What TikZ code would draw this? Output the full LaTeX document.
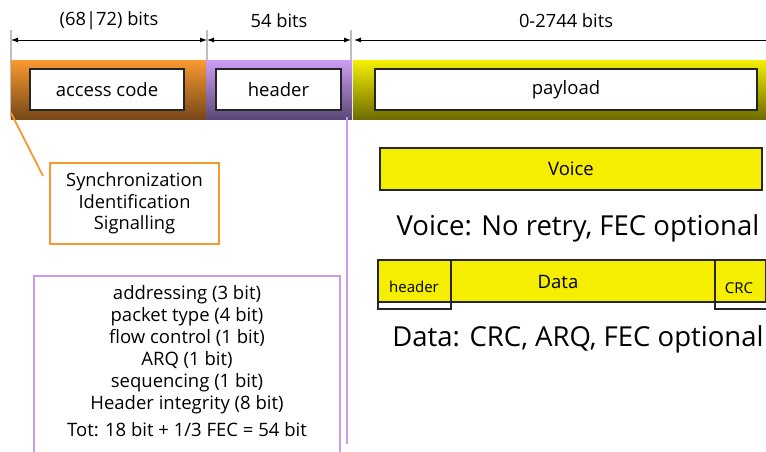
\documentclass[tikz,border=0pt]{standalone}
\usepackage{fontspec}
\setmainfont{Open Sans}
\definecolor{orTop}{HTML}{F7982F}
\definecolor{orBot}{HTML}{784818}
\definecolor{puTop}{HTML}{CB9CF2}
\definecolor{puBot}{HTML}{5C4878}
\definecolor{yeTop}{HTML}{F2EE00}
\definecolor{yeBot}{HTML}{6E6C00}
\definecolor{fillY}{HTML}{F5EE00}
\definecolor{orLine}{HTML}{F7982F}
\definecolor{puLine}{HTML}{C99AF0}
\tikzset{
  whitebox/.style={draw=black!85, line width=1.2pt, fill=white, font=\fontsize{18.5}{22}\selectfont},
  dimarrow/.style={draw=black, line width=0.9pt, {Latex[length=7pt,width=5pt]}-{Latex[length=7pt,width=5pt]}},
  tick/.style={draw=black!25, line width=1.2pt},
  dimlabel/.style={font=\fontsize{18.3}{22}\selectfont},
  biglabel/.style={font=\fontsize{27.5}{32}\selectfont},
  ybox/.style={draw=black!85, line width=1.2pt, fill=fillY},
}
\usetikzlibrary{arrows.meta}
\begin{document}
\begin{tikzpicture}[x=1pt,y=-1pt]
\useasboundingbox (0,0) rectangle (766,452);
% ticks
\draw[tick] (11,30) -- (11,118);
\draw[tick] (207,30) -- (207,60);
\draw[tick] (351,30) -- (351,60);
\coordinate (t0) at (11,40);
\coordinate (t1) at (207,40);
\coordinate (t2) at (351,40);
\coordinate (t3) at (766,40);
\draw[dimarrow] (t0) -- (t1);
\draw[dimarrow] (t1) -- (t2);
\draw[draw=black, line width=0.9pt, {Latex[length=7pt,width=5pt]}-] (t2) ++(3,0) -- (t3);
\node[dimlabel] (l1) at (109,21) {(68|72) bits};
\node[dimlabel] (l2) at (279,21) {54 bits};
\node[dimlabel] (l3) at (566,21) {0-2744 bits};
% bar segments
\shade[top color=orTop, bottom color=orBot] (11,61) rectangle (206,119);
\shade[top color=puTop, bottom color=puBot] (206,61) rectangle (352,119);
\shade[top color=yeTop, bottom color=yeBot] (353,61) rectangle (766,119);
\node[whitebox, minimum width=154pt, minimum height=41pt] (ac) at (107,89.5) {access code};
\node[whitebox, minimum width=125pt, minimum height=41pt] (hd) at (278.5,89.5) {header};
\node[whitebox, minimum width=382pt, minimum height=41pt] (pl) at (566,89.5) {payload};
% orange callout
\node[draw=orLine, line width=2.8pt, fill=white, minimum width=169pt, minimum height=81pt, align=center, font=\fontsize{18.3}{21.5}\selectfont] (sync) at (134.5,203.5) {Synchronization\\Identification\\Signalling};
\coordinate (oa) at (11,113);
\coordinate (ob) at (43,176);
\draw[orLine, line width=1.8pt] (oa) -- (ob);
% purple line and box
\coordinate (pa) at (347,117);
\coordinate (pb) at (347,444);
\draw[puLine, line width=2.5pt] (pa) -- (pb);
\draw[puLine, line width=2.8pt] (34,460) -- (34,276) -- (340,276) -- (340,460);
\node[align=center, font=\fontsize{18.5}{22}\selectfont, anchor=north] (hdrtxt) at (187,282) {addressing (3 bit)\\packet type (4 bit)\\flow control (1 bit)\\ARQ (1 bit)\\sequencing (1 bit)\\Header integrity (8 bit)};
\node[font=\fontsize{18.5}{22}\selectfont] (tot) at (187,430) {Tot: 18 bit + 1/3 FEC = 54 bit};
% voice
\node[ybox, minimum width=382pt, minimum height=42pt, font=\fontsize{18.5}{22}\selectfont] (voice) at (571,169) {Voice};
\node[biglabel] (vtxt) at (578,228) {Voice: No retry, FEC optional};
% data
\draw[ybox] (378,260) rectangle (766,302);
\node[font=\fontsize{18.5}{22}\selectfont] (data) at (558,282) {Data};
\draw[black!85, line width=2.2pt] (378,309) -- (378,260) -- (451,260) -- (451,309) -- cycle;
\node[font=\fontsize{15}{18}\selectfont] (dh) at (414,287) {header};
\draw[black!85, line width=2.2pt] (767,309) -- (715,309) -- (715,260) -- (767,260);
\node[font=\fontsize{15}{18}\selectfont] (crc) at (739,288) {CRC};
\node[biglabel] (dtxt) at (578,339) {Data: CRC, ARQ, FEC optional};
\end{tikzpicture}
\end{document}
